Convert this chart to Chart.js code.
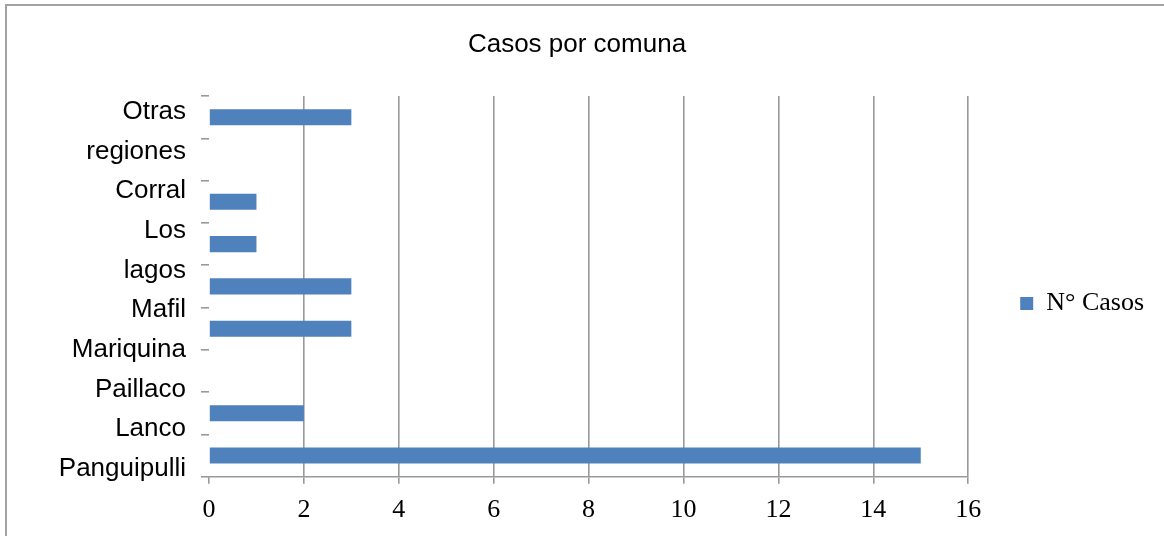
<!DOCTYPE html>
<html><head><meta charset="utf-8">
<script src="https://cdn.jsdelivr.net/npm/chart.js@4"></script>
<style>
html,body{margin:0;padding:0;background:#fff;overflow:hidden}
#wrap{position:relative;width:1164px;height:536px}
#frame{position:absolute;left:5px;top:4px;width:1200px;height:600px;border-top:2px solid #a3a3a3;border-left:2px solid #a3a3a3;pointer-events:none}
canvas{position:absolute;left:0;top:0}
</style></head><body>
<div id="wrap"><canvas id="c" width="1164" height="536"></canvas><div id="frame"></div></div>
<script>
// Data (top to bottom as drawn)
const categories = ['Otras regiones', '', 'Corral', 'Los lagos', 'Mafil', 'Mariquina', 'Paillaco', 'Lanco', 'Panguipulli'];
const casos = [3, null, 1, 1, 3, 3, 0, 2, 15];
const xTicks = [0, 2, 4, 6, 8, 10, 12, 14, 16];
const seriesName = 'N° Casos';
const chartTitle = 'Casos por comuna';

// Text lines of the category labels as laid out on the left
const labelLines = categories.filter(Boolean).flatMap(c => c.split(' '));

const SANS = "'Liberation Sans', Arial, sans-serif";
const SERIF = "'Liberation Serif', 'Times New Roman', serif";
const GRID = '#999999';

const legendNudge = {
  id: 'legendNudge',
  afterLayout(chart) {
    const lg = chart.legend;
    if (lg) { lg.top += 17; lg.bottom += 17; }
  }
};

Chart.defaults.font.family = SANS;
Chart.defaults.color = '#000';

new Chart(document.getElementById('c'), {
  type: 'bar',
  data: {
    labels: categories,
    datasets: [{
      label: seriesName,
      data: casos,
      backgroundColor: '#4f81bd',
      borderWidth: 0,
      barPercentage: 0.38,
      categoryPercentage: 1
    }]
  },
  options: {
    indexAxis: 'y',
    responsive: false,
    animation: false,
    devicePixelRatio: 1,
    layout: { padding: { left: 0, right: 10, top: 0, bottom: 0 } },
    plugins: {
      title: {
        display: true, text: chartTitle, color: '#000',
        font: { family: SANS, size: 26, weight: 'normal' },
        padding: { top: 29, bottom: 35.9 }
      },
      legend: {
        position: 'right', fullSize: false,
        labels: { boxWidth: 13, boxHeight: 13, padding: 52, color: '#000', font: { family: SERIF, size: 26 } }
      },
      tooltip: { enabled: false }
    },
    scales: {
      x: {
        type: 'linear', min: 0, max: 16,
        afterBuildTicks: s => { s.ticks = xTicks.map(v => ({ value: v })); },
        grid: {
          color: c => (c.tick && c.tick.value === 0) ? 'rgba(0,0,0,0)' : GRID,
          tickColor: GRID, lineWidth: 1.6, tickLength: 7
        },
        border: { display: true, color: GRID, width: 1.6 },
        ticks: { font: { family: SERIF, size: 26 }, color: '#000', padding: 11, maxRotation: 0, autoSkip: false },
        afterFit: s => { s.height = 59.3; }
      },
      y: {
        type: 'category', position: 'left', weight: 0,
        grid: { display: true, drawOnChartArea: false, drawTicks: true, tickLength: 8, color: GRID, lineWidth: 1.6, offset: true },
        border: { display: false },
        ticks: { display: false },
        afterFit: s => { s.width = 8; }
      },
      yl: {
        type: 'linear', position: 'left', weight: 1, reverse: true, offset: false, bounds: 'data',
        min: -0.4, max: 9.2,
        afterBuildTicks: s => { s.ticks = labelLines.map((_, i) => ({ value: i })); },
        ticks: { autoSkip: false, padding: 15, color: '#000', font: { family: SANS, size: 26 }, callback: v => labelLines[v] },
        grid: { display: false, drawTicks: false, offset: false },
        border: { display: false },
        afterFit: s => { s.width = 201; }
      }
    }
  },
  plugins: [legendNudge]
});
</script>
</body></html>
